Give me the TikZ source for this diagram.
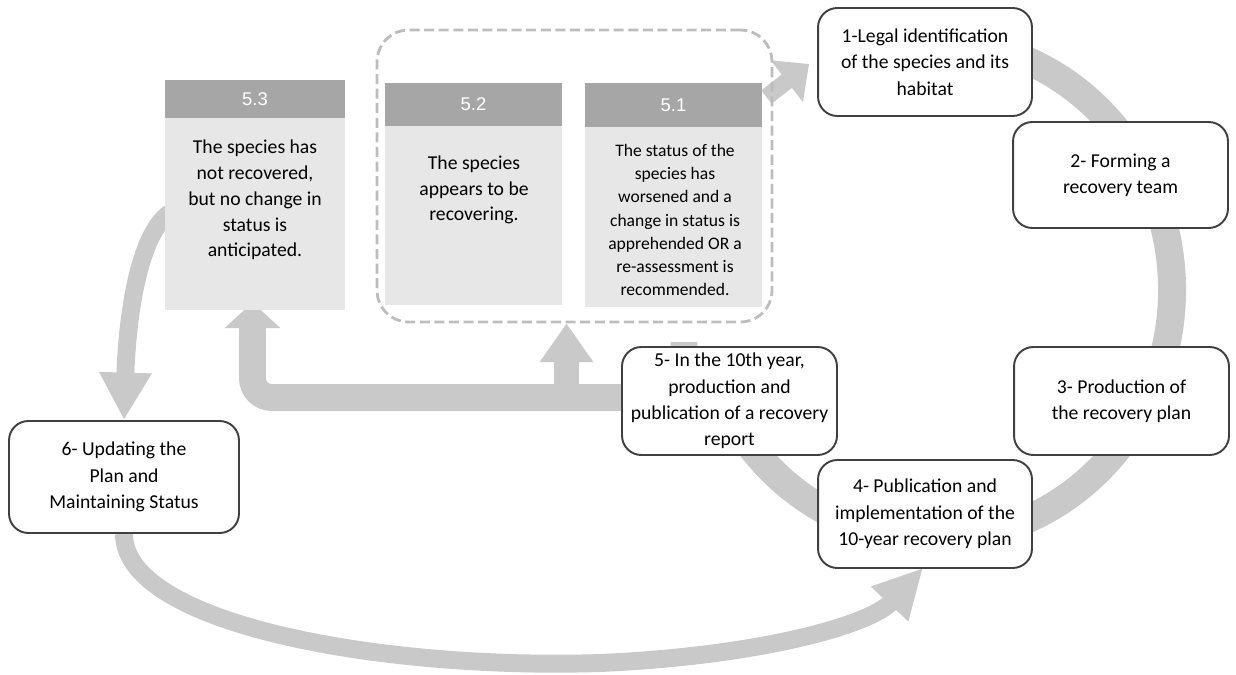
\documentclass[tikz,border=0pt]{standalone}
\usepackage{fontspec}
\setmainfont{Carlito}
\newfontfamily\headfont{Liberation Sans}
\usetikzlibrary{arrows.meta,calc,backgrounds}
\definecolor{boxline}{HTML}{404040}
\definecolor{flowgrey}{HTML}{C9C9C9}
\definecolor{headgrey}{HTML}{A6A6A6}
\definecolor{bodygrey}{HTML}{E7E7E7}
\definecolor{dashgrey}{HTML}{BDBDBD}

\begin{document}
\begin{tikzpicture}[x=0.02cm,y=-0.02cm,
  stepbox/.style={draw=boxline,line width=1.1pt,fill=white,rounded corners=11pt,
    align=center,inner sep=0pt,font=\fontsize{11.2}{15}\selectfont},
  panelhead/.style={fill=headgrey,text=white,inner sep=0pt,
    font=\headfont\fontsize{10.5}{12}\selectfont},
  panelbody/.style={fill=bodygrey,inner sep=0pt},
  paneltext/.style={align=center,inner sep=0pt,font=\fontsize{11.2}{14.7}\selectfont},
  flow/.style={draw=flowgrey,line width=#1}]
  \useasboundingbox (0,0) rectangle (1236,675);

  % outcome panels
  \node[panelhead,minimum width=3.6cm,minimum height=0.76cm] (h53) at (255,99) {5.3};
  \node[panelbody,minimum width=3.6cm,minimum height=3.84cm] (p53) at (255,214) {};
  \node[paneltext] (t53) at (255,200) {The species has\\not recovered,\\but no change in\\status is\\anticipated.};
  \node[panelhead,minimum width=3.54cm,minimum height=0.86cm] (h52) at (473.5,104.5) {5.2};
  \node[panelbody,minimum width=3.54cm,minimum height=3.58cm] (p52) at (473.5,215.5) {};
  \node[paneltext] (t52) at (474,190) {The species\\appears to be\\recovering.};
  \node[panelhead,minimum width=3.54cm,minimum height=0.88cm] (h51) at (673.5,105) {5.1};
  \node[panelbody,minimum width=3.54cm,minimum height=3.6cm] (p51) at (673.5,217) {};
  \node[paneltext,font=\fontsize{10}{13.2}\selectfont] (t51) at (675,220)
    {The status of the\\species has\\worsened and a\\change in status is\\apprehended OR a\\re-assessment is\\recommended.};
  \node[draw=dashgrey,line width=1.6pt,dash pattern=on 5.7pt off 2.6pt,rounded corners=18pt,
    minimum width=7.9cm,minimum height=5.84cm] (frame) at (574.5,176) {};

  % steps
  \node[stepbox,minimum width=4.28cm,minimum height=2.16cm] (b1) at (925,62) {1-Legal identification\\of the species and its\\habitat};
  \node[stepbox,minimum width=4.3cm,minimum height=2.12cm] (b2) at (1120.5,175) {2- Forming a\\recovery team};
  \node[stepbox,minimum width=4.3cm,minimum height=2.16cm] (b3) at (1121.5,401) {3- Production of\\the recovery plan};
  \node[stepbox,minimum width=4.28cm,minimum height=2.16cm] (b4) at (925,514) {4- Publication and\\implementation of the\\10-year recovery plan};
  \node[stepbox,minimum width=4.3cm,minimum height=2.16cm] (b5) at (729.5,401) {5- In the 10th year,\\production and\\publication of a recovery\\report};
  \node[stepbox,minimum width=4.6cm,minimum height=2.24cm] (b6) at (124,477) {6- Updating the\\Plan and\\Maintaining Status};

  \begin{scope}[on background layer]
    \coordinate (hub) at (935,290);
    \draw[flow=15.9pt] (hub) ++(-72:237 and 249) arc[start angle=-72,end angle=145,x radius=237,y radius=249];
    \draw[flow=15.3pt,rounded corners=11pt,-{Triangle[length=14.7pt,width=31pt]}]
      ($(b5.north)+(-45.5,-4)$) -- ++(0,55.5) -| ($(p53.south)+(-2.5,-8)$);
    \coordinate (fork) at ($(frame.south)+(-8,76.5)$);
    \draw[flow=14.2pt,-{Triangle[length=22pt,width=29pt]}] (fork) -- (fork |- frame.south);
    \draw[flow=9.6pt,-{Triangle[length=16pt,width=29pt]}] ($(frame.east)+(-7,-79)$) -- ($(b1.west)+(-8,2)$);
    \draw[flow=10.2pt,-{Triangle[length=27pt,width=28pt]}] ($(p53.west)+(5,-1)$)
      .. controls (138,235) and (127,320) .. (b6.north);
    \draw[flow=10.2pt,-{Triangle[length=28pt,width=27pt]}] (b6.south)
      .. controls +(0,90) and (380,670) .. (600,663)
      .. controls (760,656) and (870,625) .. ($(b4.south)+(-2,-1)$);
  \end{scope}
\end{tikzpicture}
\end{document}
